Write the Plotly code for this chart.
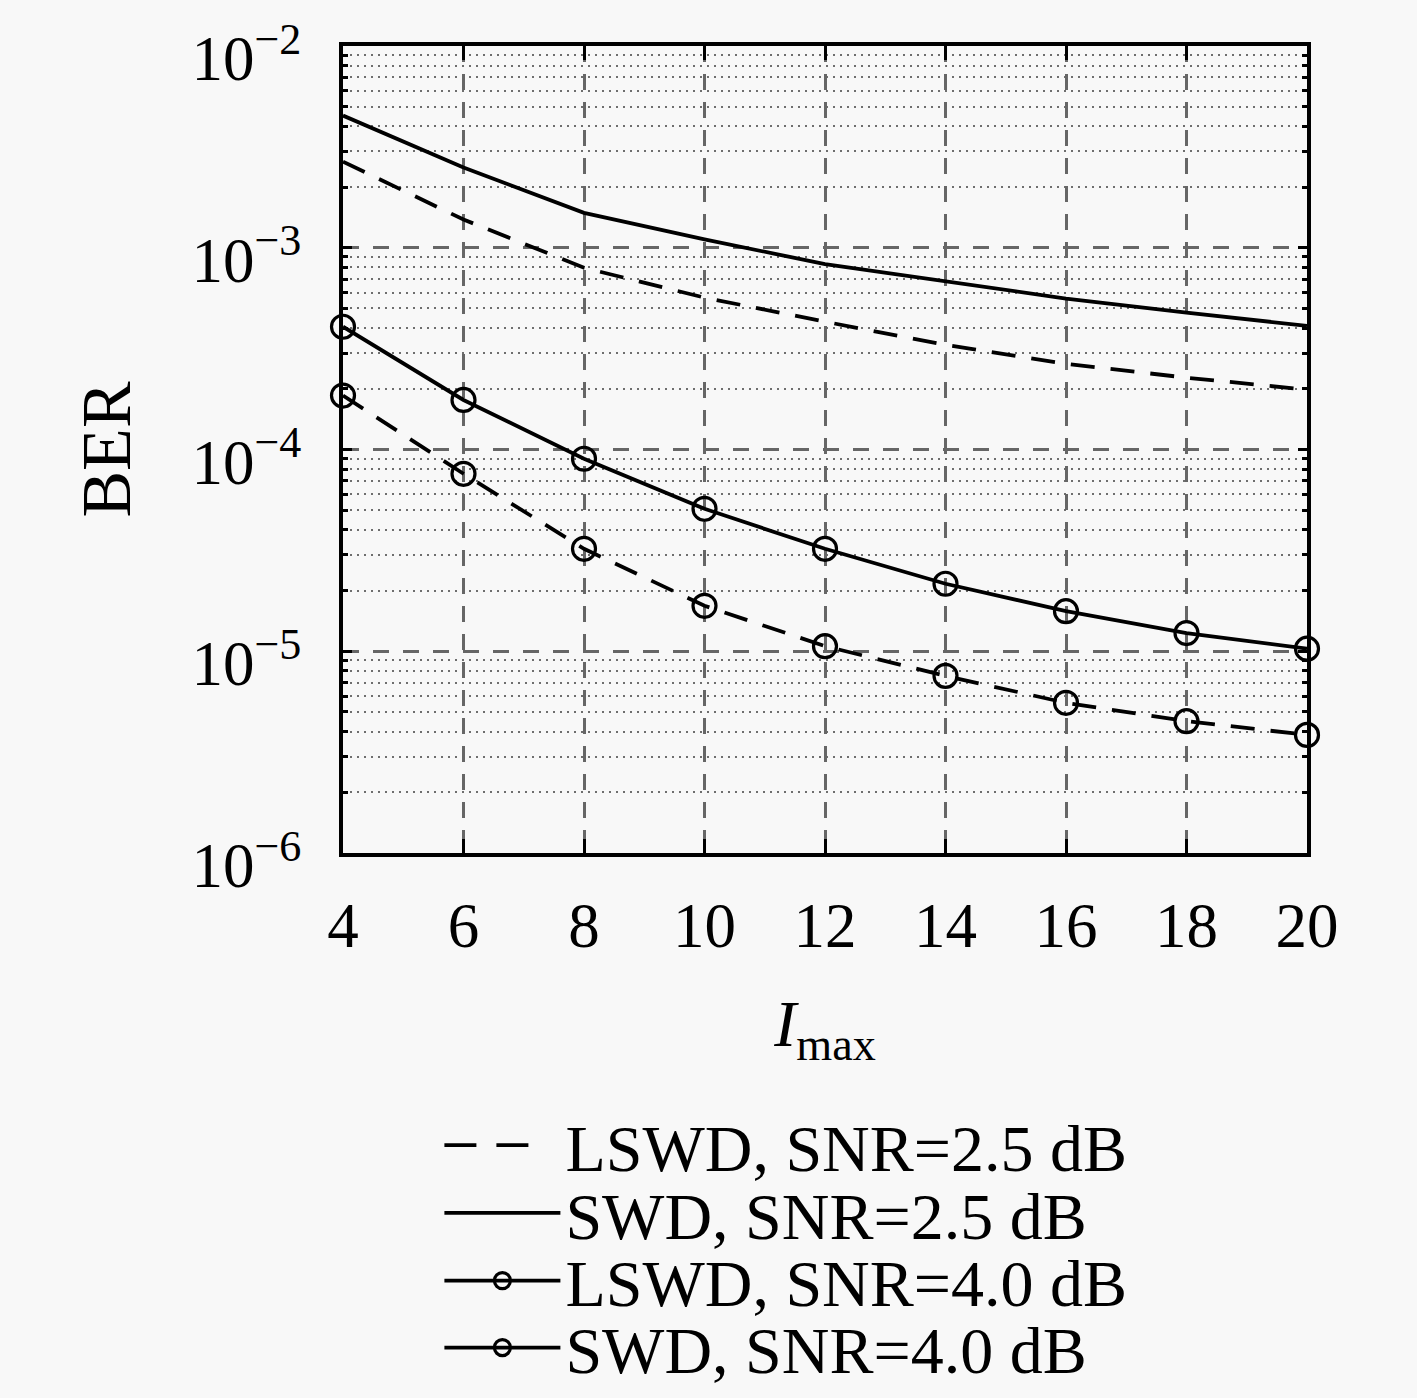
import plotly.graph_objects as go

x_vals = [4, 6, 8, 10, 12, 14, 16, 18, 20]
lswd_25 = [2.67e-3, 1.38e-3, 7.96e-4, 5.66e-4, 4.3e-4, 3.3e-4, 2.66e-4, 2.27e-4, 1.98e-4]
swd_25 = [4.52e-3, 2.5e-3, 1.49e-3, 1.1e-3, 8.3e-4, 6.8e-4, 5.6e-4, 4.77e-4, 4.1e-4]
lswd_40 = [1.85e-4, 7.58e-5, 3.22e-5, 1.68e-5, 1.06e-5, 7.55e-6, 5.55e-6, 4.5e-6, 3.85e-6]
swd_40 = [4.06e-4, 1.76e-4, 9.0e-5, 5.08e-5, 3.22e-5, 2.16e-5, 1.58e-5, 1.23e-5, 1.03e-5]

names = ["LSWD, SNR=2.5 dB", "SWD, SNR=2.5 dB", "LSWD, SNR=4.0 dB", "SWD, SNR=4.0 dB"]
y_ticks = [1e-6, 1e-5, 1e-4, 1e-3, 1e-2]
y_ticktext = ["10<sup>−6</sup>", "10<sup>−5</sup>", "10<sup>−4</sup>", "10<sup>−3</sup>", "10<sup>−2</sup>"]
x_ticks = [4, 6, 8, 10, 12, 14, 16, 18, 20]

FONT = "Liberation Serif"
BG = "#f8f8f8"
DASH = "24px,16px"
LEG_DASH = "32px,20px,32px,40px"
LW = 3.8

# (values, plot dash, markers, legend dash)
series = [
    (lswd_25, DASH, False, LEG_DASH),
    (swd_25, "solid", False, "solid"),
    (lswd_40, DASH, True, "solid"),
    (swd_40, "solid", True, "solid"),
]
legend_ids = ["legend", "legend2", "legend3", "legend4"]
legend_rows_y = [-0.362, -0.446, -0.530, -0.613]

fig = go.Figure()
for (ys, dash, mk, ldash), nm, lid in zip(series, names, legend_ids):
    mode = "lines+markers" if mk else "lines"
    marker = dict(symbol="circle-open", size=23, color="black", line=dict(width=3.2, color="black"))
    # data trace
    fig.add_trace(go.Scatter(
        x=x_vals, y=ys, name=nm, mode=mode, showlegend=False,
        line=dict(color="black", width=LW, dash=dash),
        marker=marker, cliponaxis=False,
    ))
    # legend entry (same style as the reference legend sample)
    fig.add_trace(go.Scatter(
        x=[None], y=[None], name=nm, mode=mode, legend=lid,
        line=dict(color="black", width=LW, dash=ldash),
        marker=marker,
    ))

minor_vals = [m * 10 ** e for e in range(-6, -2) for m in range(2, 10)]

legend_common = dict(
    x=0.100, xanchor="left", yanchor="middle",
    bgcolor="rgba(0,0,0,0)", font=dict(size=66, family=FONT, color="black"),
    itemwidth=116, borderwidth=0,
)
layout_legends = {}
for lid, yy in zip(legend_ids, legend_rows_y):
    layout_legends[lid] = dict(legend_common, y=yy)

fig.update_layout(
    width=1417, height=1398,
    paper_bgcolor=BG, plot_bgcolor=BG,
    margin=dict(l=343, r=110, t=46, b=545, autoexpand=False),
    font=dict(family=FONT, size=62, color="black"),
    showlegend=True,
    xaxis=dict(
        range=[4, 20], tickvals=x_ticks, ticktext=[str(v) for v in x_ticks],
        showline=True, linecolor="black", linewidth=4, mirror="allticks",
        ticks="inside", ticklen=14, tickwidth=3, tickcolor="black",
        showgrid=True, gridcolor="#666666", gridwidth=2.8, griddash="16px,12px",
        zeroline=False, ticklabelstandoff=14, automargin=False,
        tickfont=dict(size=63, family=FONT),
        title=dict(text="<i>I</i><sub>max</sub>", font=dict(size=66, family=FONT), standoff=41),
    ),
    yaxis=dict(
        type="log", range=[-6, -2], tickvals=y_ticks, ticktext=y_ticktext,
        showline=True, linecolor="black", linewidth=4, mirror="allticks",
        ticks="inside", ticklen=9, tickwidth=3, tickcolor="black",
        showgrid=True, gridcolor="#666666", gridwidth=2.8, griddash="16px,14px",
        zeroline=False, ticklabelstandoff=25, ticklabelshift=12, ticklabeloverflow="allow",
        automargin=False,
        tickfont=dict(size=63, family=FONT),
        minor=dict(tickvals=minor_vals, ticks="inside", ticklen=5, tickwidth=2.5, tickcolor="black",
                   showgrid=True, gridcolor="#6e6e6e", gridwidth=1.7, griddash="2px,5px"),
        title=dict(text="BER", font=dict(size=70, family=FONT), standoff=39),
    ),
    **layout_legends,
)

fig.write_html(
    "out.html",
    config={"displayModeBar": False},
    post_script="document.body.style.margin='0';document.body.style.background='%s';" % BG,
)
